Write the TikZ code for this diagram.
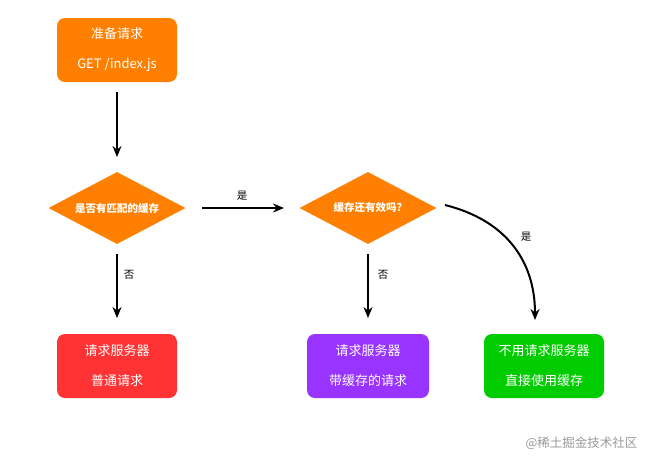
\documentclass[tikz,border=0pt]{standalone}
\usepackage{fontspec}
\setmainfont{Liberation Sans}
\newfontfamily\cjk{Noto Sans CJK SC}
\usetikzlibrary{shapes.geometric,arrows.meta}
\definecolor{orng}{HTML}{FF8000}
\definecolor{redb}{HTML}{FF3333}
\definecolor{purp}{HTML}{9933FF}
\definecolor{grn}{HTML}{00CC00}
\begin{document}
\begin{tikzpicture}[x=1pt,y=-1pt,
  box/.style={rounded corners=8pt,minimum width=120pt,minimum height=64pt,text=white,align=center,font=\cjk\fontsize{13}{30}\selectfont,inner sep=0pt},
  dia/.style={diamond,fill=orng,minimum width=137pt,minimum height=72pt,aspect=1.9,inner sep=0pt,text=white,font=\cjk\fontsize{10.5}{12}\bfseries\selectfont},
  arr/.style={-{Stealth[length=11pt,width=9pt]},line width=2pt},
  lbl/.style={font=\cjk\fontsize{10.5}{12}\selectfont}]
\useasboundingbox (0,0) rectangle (650,467);
\node[box,fill=orng] (start) at (117,50) {准备请求\\GET /index.js};
\node[dia] (d1) at (117,208) {是否有匹配的缓存};
\node[dia] (d2) at (368,208) {缓存还有效吗?};
\node[box,fill=redb] (r1) at (117,366) {请求服务器\\普通请求};
\node[box,fill=purp,minimum width=122pt] (r2) at (368,366) {请求服务器\\带缓存的请求};
\node[box,fill=grn] (r3) at (544,366) {不用请求服务器\\直接使用缓存};
\coordinate (a1) at (117,92);
\coordinate (a2) at (117,157);
\draw[arr] (a1) -- (a2);
\coordinate (b1) at (202,208);
\coordinate (b2) at (284,208);
\draw[arr] (b1) -- (b2);
\node[lbl] (l1) at (242,196) {是};
\coordinate (c1) at (117,254);
\coordinate (c2) at (117,318);
\draw[arr] (c1) -- (c2);
\node[lbl] (l2) at (129,275) {否};
\coordinate (e1) at (368,254);
\coordinate (e2) at (368,318);
\draw[arr] (e1) -- (e2);
\node[lbl] (l3) at (383,275) {否};
\coordinate (f1) at (445,205);
\coordinate (f2) at (535,320);
\draw[arr] (f1) .. controls (505,220) and (535,260) .. (f2);
\node[lbl] (l4) at (526,237) {是};
\node[font=\cjk\fontsize{12.5}{14}\selectfont,text=black!40,anchor=east] (wm) at (641,443) {@稀土掘金技术社区};
\end{tikzpicture}
\end{document}
